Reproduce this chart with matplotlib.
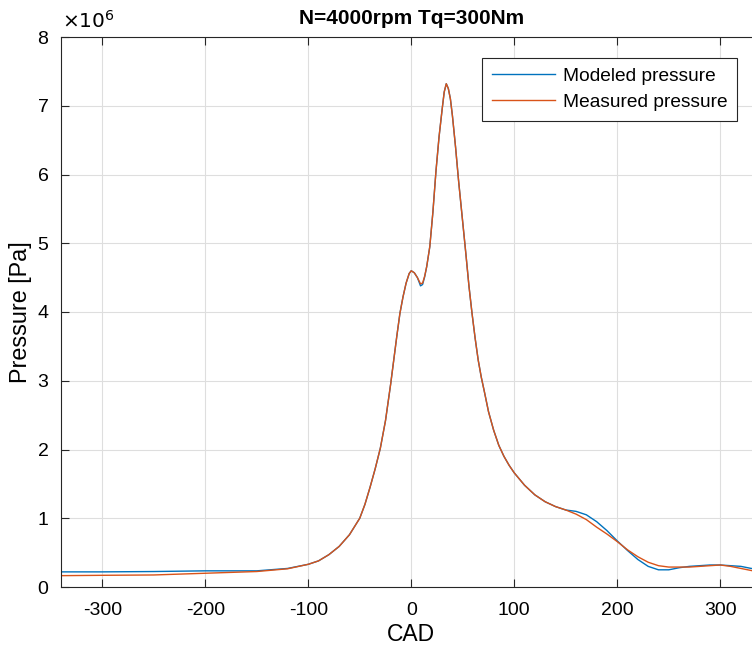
import matplotlib.pyplot as plt

plt.rcParams['font.family'] = ['Liberation Sans', 'DejaVu Sans']
plt.rcParams['axes.unicode_minus'] = False

# crank angle [deg] and pressure [x1e6 Pa]
cad = [-340, -300, -250, -200, -150, -120, -100, -90, -80, -70, -60, -50, -45, -40,
       -35, -30, -25, -20, -17, -14, -11, -8, -5, -2, 0, 3, 6, 9, 11, 13, 15, 18,
       21, 24, 27, 30, 32, 34, 36, 38, 40, 43, 46, 50, 53, 56, 59, 62, 65, 68,
       71, 75, 80, 85, 90, 95, 100, 110, 120, 130, 140, 150, 160, 170, 180, 190,
       200, 210, 220, 230, 240, 250, 260, 270, 280, 290, 300, 310, 320, 330, 340]

p_model = [0.22, 0.22, 0.225, 0.235, 0.235, 0.27, 0.33, 0.38, 0.47, 0.59, 0.76, 1.00,
           1.20, 1.45, 1.72, 2.02, 2.42, 2.95, 3.30, 3.65, 3.98, 4.22, 4.42, 4.56,
           4.60, 4.57, 4.50, 4.38, 4.40, 4.51, 4.66, 4.95, 5.45, 6.05, 6.55, 6.95,
           7.20, 7.32, 7.25, 7.10, 6.85, 6.40, 5.90, 5.30, 4.85, 4.38, 3.98, 3.62,
           3.30, 3.05, 2.84, 2.55, 2.28, 2.06, 1.90, 1.77, 1.66, 1.48, 1.34, 1.24,
           1.17, 1.12, 1.10, 1.05, 0.95, 0.82, 0.67, 0.53, 0.40, 0.30, 0.25, 0.25,
           0.28, 0.30, 0.31, 0.32, 0.32, 0.31, 0.30, 0.27, 0.26]

p_meas = [0.165, 0.17, 0.175, 0.20, 0.225, 0.265, 0.33, 0.38, 0.47, 0.59, 0.76, 1.00,
          1.20, 1.45, 1.72, 2.02, 2.42, 2.95, 3.30, 3.65, 3.98, 4.22, 4.42, 4.56,
          4.60, 4.57, 4.50, 4.41, 4.42, 4.52, 4.66, 4.95, 5.45, 6.05, 6.55, 6.95,
          7.20, 7.32, 7.25, 7.10, 6.85, 6.40, 5.90, 5.30, 4.85, 4.38, 3.98, 3.62,
          3.30, 3.05, 2.84, 2.55, 2.28, 2.06, 1.90, 1.77, 1.66, 1.48, 1.34, 1.24,
          1.17, 1.12, 1.06, 0.98, 0.87, 0.77, 0.66, 0.54, 0.44, 0.36, 0.31, 0.29,
          0.29, 0.29, 0.30, 0.31, 0.32, 0.30, 0.27, 0.24, 0.21]

xticks = [-300, -200, -100, 0, 100, 200, 300]
yticks = [0, 1, 2, 3, 4, 5, 6, 7, 8]

fig = plt.figure(figsize=(7.52, 6.49), dpi=100)
ax = fig.add_axes([61 / 752, 62 / 649, 700.5 / 752, 550 / 649])

ax.plot(cad, p_model, color='#0072BD', lw=1.0, label='Modeled pressure')
ax.plot(cad, p_meas, color='#D95319', lw=1.0, label='Measured pressure')

ax.set_xlim(-340, 340)
ax.set_ylim(0, 8)
ax.set_xticks(xticks)
ax.set_yticks(yticks)
ax.grid(True, color='#dedede', lw=0.8)
ax.set_axisbelow(True)
ax.tick_params(direction='in', top=True, right=True, length=6, width=0.8,
               labelsize=14, colors='#262626')
ax.tick_params(labelcolor='black')
ax.tick_params(axis='x', pad=11)
ax.tick_params(axis='y', pad=9)
for s in ax.spines.values():
    s.set_color('#262626')
    s.set_linewidth(0.8)

ax.set_xlabel('CAD', fontsize=16.5, labelpad=3)
ax.set_ylabel('Pressure [Pa]', fontsize=16.8, labelpad=4)
ax.set_title('N=4000rpm Tq=300Nm', fontsize=15, fontweight='bold', pad=9)
fig.text(62 / 752, 1 - 21 / 649, r'$\times10^{6}$', fontsize=14.5, va='center', ha='left',
         math_fontfamily='custom')

leg = ax.legend(loc='upper right', bbox_to_anchor=(737 / 752, 1 - 58 / 649),
                bbox_transform=fig.transFigure, borderaxespad=0, fancybox=False,
                fontsize=13.8, handlelength=3.3, handletextpad=0.4, borderpad=0.5,
                labelspacing=0.45, framealpha=1)
leg.get_frame().set_edgecolor('#262626')
leg.get_frame().set_linewidth(0.8)

fig.savefig('out.png', dpi=100)
